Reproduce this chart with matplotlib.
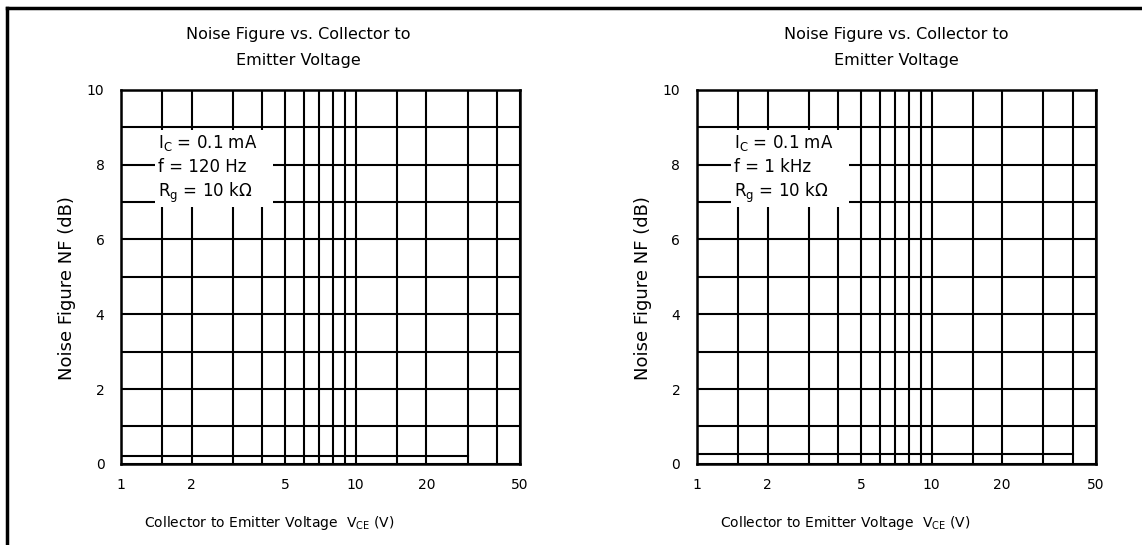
import matplotlib
matplotlib.use('Agg')
import matplotlib.pyplot as plt
from matplotlib.lines import Line2D

plt.rcParams['font.family'] = ['DejaVu Sans']
plt.rcParams['mathtext.fontset'] = 'dejavusans'

# data
vce_left = [1, 30]
nf_left = [0.2, 0.2]
vce_right = [1, 40]
nf_right = [0.25, 0.25]

x_major = [1, 2, 5, 10, 20, 50]
x_labels = ['1', '2', '5', '10', '20', '50']
x_minor = [1.5, 3, 4, 6, 7, 8, 9, 15, 30, 40]
y_major = [0, 2, 4, 6, 8, 10]
y_minor = [1, 3, 5, 7, 9]

title_lines = ['Noise Figure vs. Collector to', 'Emitter Voltage']
ylabel = 'Noise Figure NF (dB)'
xlabel = r'Collector to Emitter Voltage  $\mathregular{V_{CE}}$ (V)'
notes_left = [r'$\mathregular{I_C}$ = 0.1 mA', 'f = 120 Hz', r'$\mathregular{R_g}$ = 10 k$\mathregular{\Omega}$']
notes_right = [r'$\mathregular{I_C}$ = 0.1 mA', 'f = 1 kHz', r'$\mathregular{R_g}$ = 10 k$\mathregular{\Omega}$']
note_y = [8.58, 7.94, 7.25]

fig = plt.figure(figsize=(11.42, 5.45), dpi=100)
ax1 = fig.add_axes([0.106, 0.149, 0.349, 0.686])
ax2 = fig.add_axes([0.6103, 0.149, 0.349, 0.686])


def setup(ax, x, y, notes, title_x):
    ax.set_xscale('log')
    ax.set_xlim(1, 50)
    ax.set_ylim(0, 10)
    ax.set_xticks(x_major)
    ax.set_xticklabels(x_labels)
    ax.set_xticks(x_minor, minor=True)
    ax.set_xticklabels([], minor=True)
    ax.set_yticks(y_major)
    ax.set_yticks(y_minor, minor=True)
    ax.tick_params(which='both', length=0, labelsize=10, colors='black')
    ax.tick_params(axis='x', pad=10)
    ax.tick_params(axis='y', pad=12)
    ax.grid(which='both', color='black', lw=1.5, zorder=1)
    ax.set_axisbelow(True)
    for s in ax.spines.values():
        s.set_linewidth(1.8)
    ax.plot(x, y, color='black', lw=1.5, zorder=2)
    # white box behind the test conditions
    ax.fill_between([1.4, 4.45], 6.88, 8.94, color='white', lw=0, zorder=3)
    for ny, note in zip(note_y, notes):
        ax.text(1.44, ny, note, fontsize=12, va='center', ha='left', zorder=4)
    for ty, line in zip([1.147, 1.08], title_lines):
        ax.text(title_x, ty, line, transform=ax.transAxes, ha='center', va='center',
                fontsize=11.5)
    ax.set_ylabel(ylabel, fontsize=13, labelpad=8)
    ax.yaxis.label.set_y(0.47)
    ax.text(0.372, -0.135, xlabel, transform=ax.transAxes, ha='center',
            va='top', fontsize=10)


setup(ax1, vce_left, nf_left, notes_left, 0.444)
setup(ax2, vce_right, nf_right, notes_right, 0.5)

# outer frame lines (top and left)
fig.add_artist(Line2D([0.0065, 1.0], [0.985, 0.985], transform=fig.transFigure,
                      color='black', lw=2.5))
fig.add_artist(Line2D([0.0065, 0.0065], [0.0, 0.985], transform=fig.transFigure,
                      color='black', lw=2.5))

fig.savefig('out.png', dpi=100, facecolor='white')
